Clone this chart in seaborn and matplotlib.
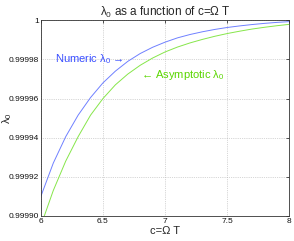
import numpy as np
import pandas as pd
import matplotlib
matplotlib.use("Agg")
import matplotlib.pyplot as plt
import seaborn as sns

# %% values (1 - lambda_0, in units of 1e-5)
c_vals = [6.0, 6.1, 6.2, 6.3, 6.4, 6.5, 6.6, 6.7, 6.8, 6.9, 7.0,
          7.1, 7.2, 7.3, 7.4, 7.5, 7.6, 7.7, 7.8, 7.9, 8.0]
numericDeficit = [9.0, 7.3, 5.95, 4.85, 3.95, 3.2, 2.6, 2.1, 1.7, 1.38, 1.12,
                  0.9, 0.73, 0.59, 0.47, 0.37, 0.29, 0.22, 0.16, 0.11, 0.07]
asymptoticDeficit = [10.5, 8.7, 7.2, 5.95, 4.85, 4.0, 3.3, 2.75, 2.3, 1.93, 1.62,
                     1.37, 1.16, 0.98, 0.82, 0.68, 0.56, 0.45, 0.36, 0.28, 0.21]

xTicks = [6, 6.5, 7, 7.5, 8]
xTickLabels = ["6", "6.5", "7", "7.5", "8"]
yTicks = [0.9999, 0.99992, 0.99994, 0.99996, 0.99998, 1.0]
yTickLabels = ["0.99990", "0.99992", "0.99994", "0.99996", "0.99998", "1"]

df = pd.DataFrame({
    "c": c_vals * 2,
    "lam": [1 - d * 1e-5 for d in numericDeficit] + [1 - d * 1e-5 for d in asymptoticDeficit],
    "series": ["Numeric"] * len(c_vals) + ["Asymptotic"] * len(c_vals),
})

# %% style
sns.set_style("white")
plt.rcParams["font.family"] = ["Liberation Sans", "DejaVu Sans"]
plt.rcParams["mathtext.fontset"] = "custom"
plt.rcParams["mathtext.rm"] = "Liberation Sans"
plt.rcParams["mathtext.it"] = "Liberation Sans"
plt.rcParams["mathtext.default"] = "regular"

fig = plt.figure(figsize=(2.94, 2.41), dpi=100)
ax = fig.add_axes([0.139, 0.104, 0.845, 0.812])

sns.lineplot(data=df, x="c", y="lam", hue="series",
             palette={"Numeric": "#6f80ff", "Asymptotic": "#86e64a"},
             linewidth=0.7, legend=False, ax=ax)

ax.set_xlim(6, 8)
ax.set_ylim(0.9999, 1.0)
ax.set_xticks(xTicks)
ax.set_xticklabels(xTickLabels)
ax.set_yticks(yTicks)
ax.set_yticklabels(yTickLabels)
ax.tick_params(direction="in", length=2.5, width=0.5, labelsize=6, pad=1.5,
               top=True, right=True, colors="#111111")
ax.grid(True, linestyle=":", linewidth=0.5, color="#b0b0b0")
for s in ax.spines.values():
    s.set_linewidth(0.6)
    s.set_color("#333333")

ax.set_title(r"$\lambda_0$ as a function of c=Ω T", fontsize=8.5, pad=3)
ax.set_xlabel("c=Ω T", fontsize=8, labelpad=1)
ax.set_ylabel(r"$\lambda_0$", fontsize=8)
ax.yaxis.set_label_coords(-0.11, 0.5)

ax.text(6.11, 0.99998, r"Numeric $\lambda_0$ →", color="#3a4fff",
        fontsize=8, va="center", ha="left")
ax.text(6.81, 0.999972, r"← Asymptotic $\lambda_0$", color="#5ad600",
        fontsize=8, va="center", ha="left")

fig.savefig("out.png", dpi=100)
